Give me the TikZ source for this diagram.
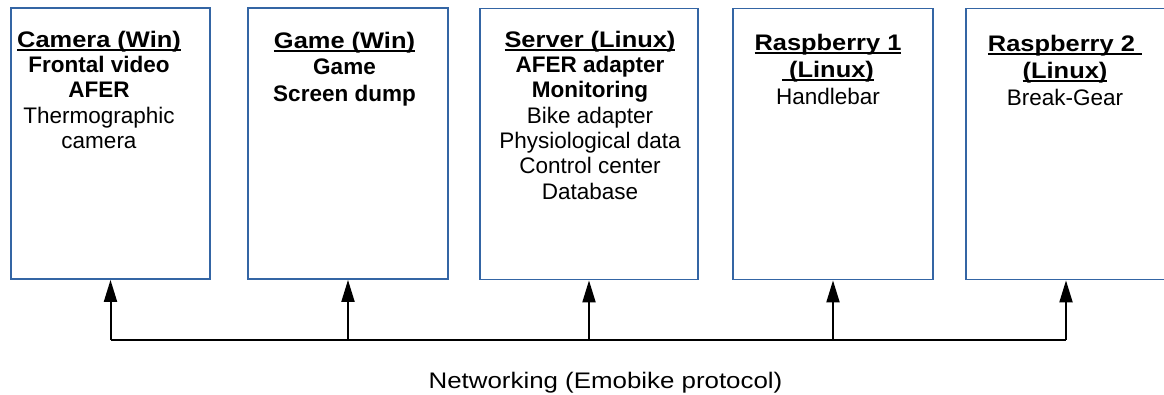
\documentclass[tikz,border=0pt]{standalone}
\usepackage{fontspec}
\setmainfont{Liberation Sans}
\newfontfamily\hdrfont{Liberation Sans}[FakeStretch=1.13]
\newfontfamily\netfont{Liberation Sans}[FakeStretch=1.15]
\usetikzlibrary{arrows.meta}

% bold, widened heading with a fixed-depth underline
\newcommand\hdr[1]{\setbox0\hbox{\hdrfont\bfseries #1}\rlap{\rule[-3.6pt]{\wd0}{1.4pt}}\box0}
% first-line strut so every text block starts 18pt above its first baseline
\newcommand\fl{\rule{0pt}{18pt}}

\definecolor{boxblue}{HTML}{3465A4}

\tikzset{
  hostbox/.style={draw=boxblue, line width=1.8pt, inner sep=0pt, minimum height=271pt},
  hosttext/.style={anchor=north, inner sep=0pt, align=center},
  bus/.style={line width=2pt, black},
  link/.style={line width=2pt, black, -{Triangle[length=22pt, width=13pt]}},
}

\begin{document}
\begin{tikzpicture}[x=1pt, y=-1pt]
\useasboundingbox (0,0) rectangle (1164,394);
\clip (0,0) rectangle (1164,394);

% machines
\node[hostbox, minimum width=199pt] (cam)  at (110.5,143.5) {};
\node[hostbox, minimum width=200pt] (game) at (348,143.5) {};
\node[hostbox, minimum width=218pt] (srv)  at (589,144) {};
\node[hostbox, minimum width=200pt] (rpa)  at (833,144) {};
\node[hostbox, minimum width=200pt] (rpb)  at (1066,144) {};

% their roles
\node[hosttext, font={\fontsize{22.5}{25.3}\selectfont}] (camtxt) at (99,29)
  {\fl\hdr{Camera (Win)}\\ \textbf{Frontal video}\\ \textbf{AFER}\\ Thermographic\\ camera};
\node[hosttext, font={\fontsize{22.5}{26.5}\selectfont}] (gametxt) at (344.5,30)
  {\fl\hdr{Game (Win)}\\ \textbf{Game}\\ \textbf{Screen dump}};
\node[hosttext, font={\fontsize{22.5}{25.3}\selectfont}] (srvtxt) at (590,29)
  {\fl\hdr{Server (Linux)}\\ \textbf{AFER adapter}\\ \textbf{Monitoring}\\ Bike adapter\\ Physiological data\\ Control center\\ Database};
\node[hosttext, font={\fontsize{22.5}{27}\selectfont}] (rpatxt) at (828,32)
  {\fl\hdr{Raspberry 1}\\ \hdr{\ (Linux)}\\ Handlebar};
\node[hosttext, font={\fontsize{22.5}{27}\selectfont}] (rpbtxt) at (1065,33)
  {\fl\hdr{Raspberry 2\ }\\ \hdr{(Linux)}\\ Break-Gear};

% network bus
\coordinate (b1) at (cam.south |- 0,340);
\coordinate (b2) at (game.south |- 0,340);
\coordinate (b3) at (srv.south |- 0,340);
\coordinate (b4) at (rpa.south |- 0,340);
\coordinate (b5) at (rpb.south |- 0,340);
\draw[bus] (b1) -- (b5);
\draw[link] (b1) -- (cam.south);
\draw[link] (b2) -- (game.south);
\draw[link] (b3) -- (srv.south);
\draw[link] (b4) -- (rpa.south);
\draw[link] (b5) -- (rpb.south);

\node[anchor=base, inner sep=0pt, font={\netfont\fontsize{22.5}{27}\selectfont}] (net) at (605.5,388)
  {Networking (Emobike protocol)};
\end{tikzpicture}
\end{document}
